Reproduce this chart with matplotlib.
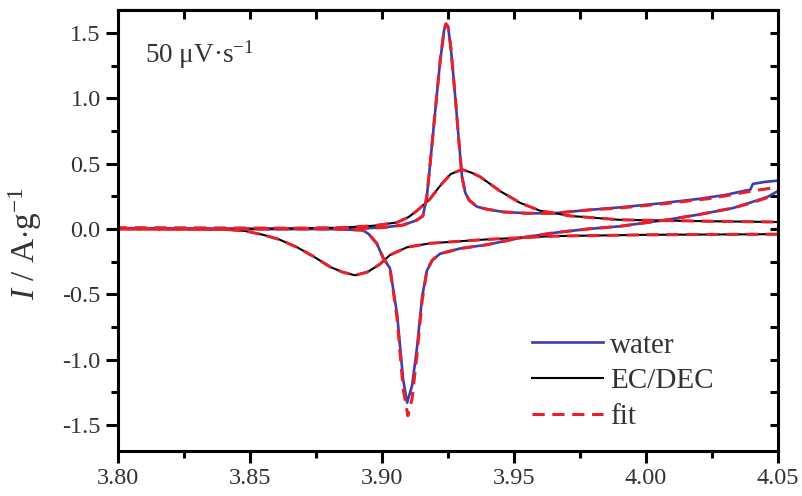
import matplotlib
matplotlib.use('Agg')
import matplotlib.pyplot as plt
from matplotlib.ticker import MultipleLocator

plt.rcParams['font.family'] = ['Liberation Serif', 'DejaVu Serif']
plt.rcParams['mathtext.fontset'] = 'custom'
plt.rcParams['mathtext.rm'] = 'Liberation Serif'
plt.rcParams['mathtext.it'] = 'Liberation Serif:italic'

# water, anodic branch
water_an_x = [3.800, 3.850, 3.885, 3.900, 3.908, 3.913, 3.9155, 3.917, 3.918, 3.920, 3.922,
              3.9235, 3.9242, 3.925, 3.926, 3.927, 3.928, 3.929, 3.9303, 3.9315, 3.933, 3.936,
              3.940, 3.946, 3.955, 3.965, 3.978, 3.990, 4.005, 4.020, 4.030, 4.038, 4.0395,
              4.0405, 4.045, 4.050]
water_an_i = [0.005, 0.000, 0.000, 0.010, 0.030, 0.065, 0.10, 0.25, 0.45, 0.87, 1.28,
              1.52, 1.57, 1.55, 1.40, 1.18, 0.95, 0.70, 0.40, 0.28, 0.22, 0.17,
              0.15, 0.13, 0.12, 0.12, 0.145, 0.165, 0.195, 0.23, 0.26, 0.295, 0.30,
              0.345, 0.36, 0.37]
# water, cathodic branch
water_cat_x = [4.050, 4.046, 4.040, 4.033, 4.020, 4.008, 3.990, 3.978, 3.965, 3.952, 3.940,
               3.9295, 3.922, 3.919, 3.917, 3.9152, 3.9133, 3.9114, 3.9095, 3.908, 3.9057,
               3.903, 3.9004, 3.898, 3.895, 3.8928, 3.880, 3.800]
water_cat_i = [0.29, 0.245, 0.205, 0.16, 0.11, 0.07, 0.02, 0.00, -0.03, -0.07, -0.12,
               -0.15, -0.19, -0.24, -0.32, -0.52, -0.90, -1.20, -1.33, -1.15, -0.65,
               -0.30, -0.22, -0.11, -0.04, -0.01, 0.0, 0.0]

# EC/DEC
ec_an_x = [3.800, 3.850, 3.870, 3.885, 3.897, 3.9057, 3.910, 3.9133, 3.9182, 3.922, 3.926,
           3.9303, 3.934, 3.9371, 3.9447, 3.9523, 3.9598, 3.9712, 3.990, 4.020, 4.050]
ec_an_i = [0.0, 0.0, 0.005, 0.01, 0.025, 0.05, 0.09, 0.14, 0.23, 0.33, 0.42,
           0.455, 0.43, 0.40, 0.29, 0.20, 0.14, 0.10, 0.07, 0.06, 0.053]
ec_cat_x = [4.050, 4.000, 3.9648, 3.9398, 3.9182, 3.9095, 3.903, 3.8992, 3.8945, 3.8898,
            3.885, 3.8803, 3.874, 3.8678, 3.861, 3.855, 3.848, 3.840, 3.800]
ec_cat_i = [-0.04, -0.045, -0.055, -0.08, -0.11, -0.14, -0.20, -0.27, -0.33, -0.355,
            -0.33, -0.29, -0.21, -0.14, -0.08, -0.045, -0.015, -0.003, 0.0]

# fits of the water curve (where they differ from the data)
fit_w_an_x = water_an_x[:27] + [3.990, 4.010, 4.025, 4.040, 4.050]
fit_w_an_i = water_an_i[:27] + [0.16, 0.20, 0.235, 0.29, 0.32]
fit_w_cat_x = [4.046, 4.040, 4.033, 4.020, 4.008, 3.990, 3.978, 3.965, 3.952, 3.940,
               3.9295, 3.922, 3.919, 3.917, 3.9152, 3.9133, 3.9114, 3.9098, 3.908, 3.9057,
               3.903, 3.9004, 3.898, 3.895, 3.8928, 3.880, 3.800]
fit_w_cat_i = [0.24, 0.20, 0.16, 0.11, 0.07, 0.02, 0.00, -0.03, -0.07, -0.12,
               -0.15, -0.19, -0.24, -0.32, -0.55, -0.95, -1.30, -1.43, -1.22, -0.68,
               -0.30, -0.22, -0.11, -0.04, -0.01, 0.005, 0.01]
# fits of EC/DEC lie on the data
fit_ec_an_i = ec_an_i
fit_ec_cat_i = ec_cat_i

blue = '#3c3cb4'
red = '#e8202a'
txt = '#333333'

fig = plt.figure(figsize=(8.03, 4.96), dpi=100)
ax = fig.add_axes([118/803, 1-451/496, 660/803, 441.5/496])

ax.plot(water_an_x, water_an_i, color=blue, lw=1.9, label='water')
ax.plot(water_cat_x, water_cat_i, color=blue, lw=1.9)
ax.plot(ec_an_x, ec_an_i, color='black', lw=1.5, label='EC/DEC')
ax.plot(ec_cat_x, ec_cat_i, color='black', lw=1.5)
dash = (4, 2.5)
ax.plot(fit_w_an_x, fit_w_an_i, color=red, lw=2.2, ls=(0, dash), label='fit')
ax.plot(fit_w_cat_x, fit_w_cat_i, color=red, lw=2.2, ls=(0, dash))
ax.plot(ec_an_x, fit_ec_an_i, color=red, lw=2.2, ls=(0, dash))
ax.plot(ec_cat_x, fit_ec_cat_i, color=red, lw=2.2, ls=(0, dash))

ax.set_xlim(3.80, 4.05)
ax.set_ylim(-1.70, 1.68)
ax.xaxis.set_major_locator(MultipleLocator(0.05))
ax.xaxis.set_minor_locator(MultipleLocator(0.025))
ax.yaxis.set_major_locator(MultipleLocator(0.5))
ax.yaxis.set_minor_locator(MultipleLocator(0.25))
ax.xaxis.set_major_formatter(plt.FuncFormatter(lambda v, p: '%.2f' % v))
ax.yaxis.set_major_formatter(plt.FuncFormatter(lambda v, p: '%.1f' % v))

for s in ax.spines.values():
    s.set_linewidth(2.2)
ax.tick_params(which='major', direction='out', length=8.5, width=2.2, labelsize=17.5,
               labelcolor=txt, pad=4)
ax.tick_params(which='minor', direction='out', length=5, width=2.2)

top = ax.secondary_xaxis('top')
top.xaxis.set_major_locator(MultipleLocator(0.05))
top.xaxis.set_minor_locator(MultipleLocator(0.025))
top.tick_params(which='both', direction='in', length=7, width=2.2, labeltop=False)
right = ax.secondary_yaxis('right')
right.yaxis.set_major_locator(MultipleLocator(0.5))
right.yaxis.set_minor_locator(MultipleLocator(0.25))
right.tick_params(which='both', direction='in', length=6, width=2.2, labelright=False)

ax.set_ylabel('$I$ / A$\\cdot$g$^{-1}$', fontsize=24, color=txt)
ax.yaxis.set_label_coords(-0.112, 0.47)
ax.text(0.041, 0.897, '50 \u03bcV\u00b7s$^{-1}$', transform=ax.transAxes, fontsize=19.5,
        color=txt, va='center', ha='left')

ax.legend(loc='upper left', bbox_to_anchor=(0.627, 0.269), frameon=False, fontsize=21,
          handlelength=2.43, handletextpad=0.24, labelspacing=0.32, borderpad=0,
          borderaxespad=0, labelcolor=txt)

fig.savefig('out.png', dpi=100)
